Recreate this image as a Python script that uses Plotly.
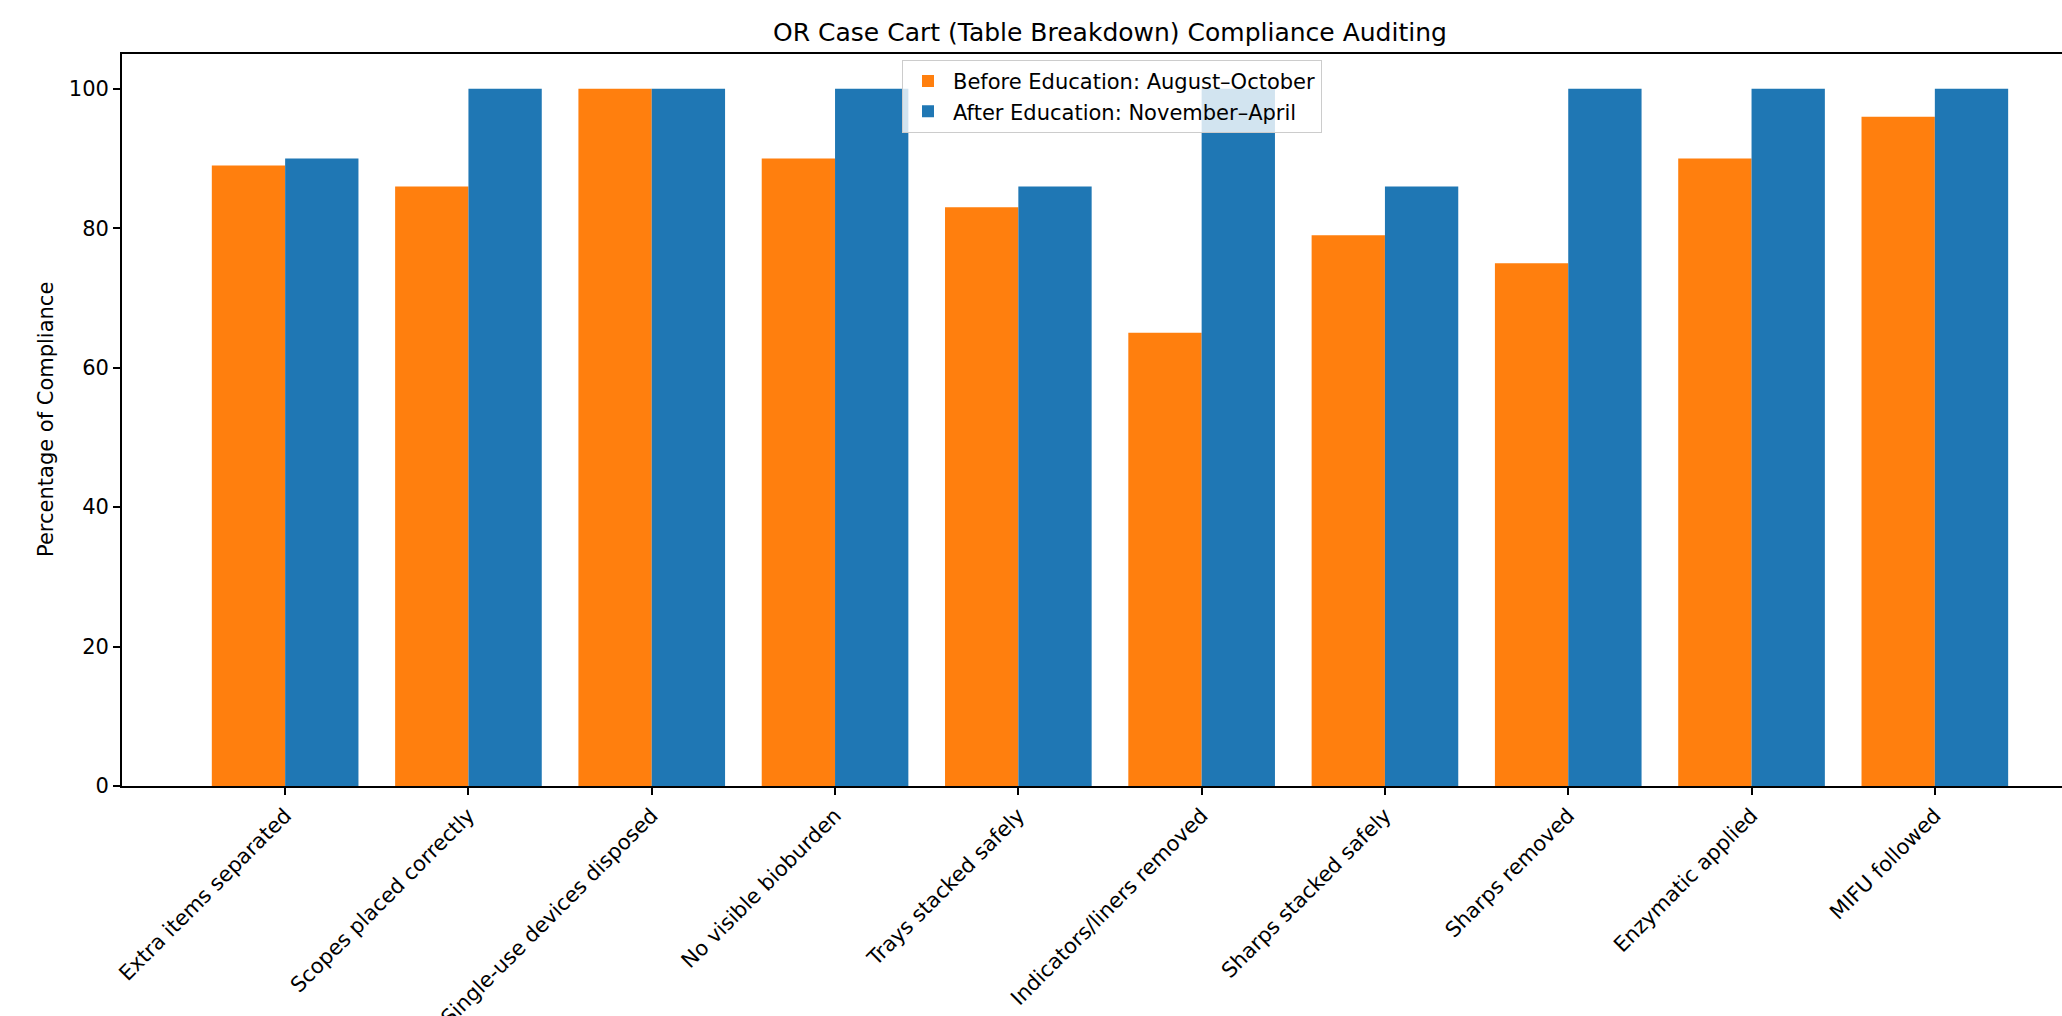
import plotly.graph_objects as go

categories = [
    "Extra items separated",
    "Scopes placed correctly",
    "Single-use devices disposed",
    "No visible bioburden",
    "Trays stacked safely",
    "Indicators/liners removed",
    "Sharps stacked safely",
    "Sharps removed",
    "Enzymatic applied",
    "MIFU followed",
]
before_values = [89, 86, 100, 90, 83, 65, 79, 75, 90, 96]
after_values = [90, 100, 100, 100, 86, 100, 86, 100, 100, 100]
series_names = ["Before Education: August\u2013October", "After Education: November\u2013April"]
y_ticks = [0, 20, 40, 60, 80, 100]

FONT = "DejaVu Sans"
W, H = 2062, 1016
L, R, T, B = 122, 0, 54, 230

fig = go.Figure()
fig.add_trace(go.Bar(x=categories, y=before_values, name=series_names[0],
                     marker=dict(color="#ff7f0e", line=dict(width=0))))
fig.add_trace(go.Bar(x=categories, y=after_values, name=series_names[1],
                     marker=dict(color="#1f77b4", line=dict(width=0))))

plot_w = W - L - R
fig.update_layout(
    width=W, height=H,
    margin=dict(l=L, r=R, t=T, b=B, pad=0, autoexpand=False),
    paper_bgcolor="white", plot_bgcolor="white",
    barmode="group", bargap=0.2, bargroupgap=0,
    font=dict(family=FONT, size=21, color="black"),
    title=dict(text="OR Case Cart (Table Breakdown) Compliance Auditing",
               font=dict(family=FONT, size=25, color="black"),
               xref="paper", x=(1110 - L) / plot_w, xanchor="center",
               yref="container", y=1 - 32 / H, yanchor="middle"),
    legend=dict(x=(1112 - L) / plot_w, xanchor="center", y=0.992, yanchor="top",
                bgcolor="rgba(255,255,255,0.8)", bordercolor="#cccccc", borderwidth=1,
                font=dict(family=FONT, size=21, color="black"), traceorder="normal",
                itemwidth=40),
    showlegend=True,
)
fig.update_xaxes(
    type="category", range=[-0.89, -0.89 + plot_w / 183.3], automargin=False,
    showline=True, linecolor="black", linewidth=1.7, mirror=True,
    ticks="outside", ticklen=7, tickwidth=1.7, tickcolor="black",
    tickangle=-45, showgrid=False, zeroline=False,
    tickfont=dict(family=FONT, size=21, color="black"),
)
fig.update_yaxes(
    range=[0, 105], tickvals=y_ticks, automargin=False,
    showline=True, linecolor="black", linewidth=1.7, mirror=False,
    ticks="outside", ticklen=7, tickwidth=1.7, tickcolor="black",
    showgrid=False, zeroline=False,
    tickfont=dict(family=FONT, size=21, color="black"),
)
fig.add_annotation(text="Percentage of Compliance", textangle=-90,
                   xref="paper", yref="paper", x=(46 - L) / plot_w, y=0.5,
                   xanchor="center", yanchor="middle", showarrow=False,
                   font=dict(family=FONT, size=21, color="black"))

fig.write_html("out.html", config={"displayModeBar": False},
               post_script="document.body.style.margin='0';document.body.style.overflow='hidden';")
